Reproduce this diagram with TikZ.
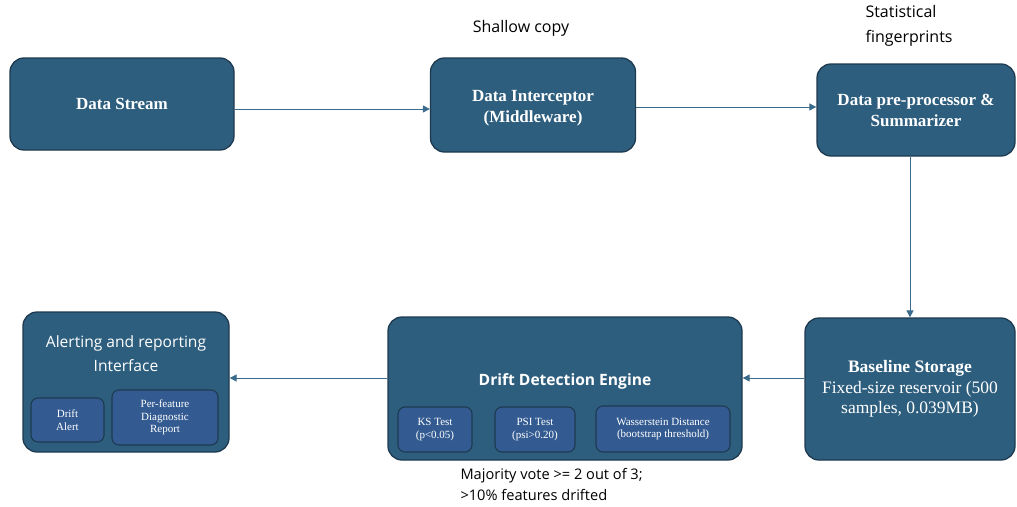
\documentclass[tikz,border=0pt]{standalone}
\usepackage{fontspec}
\setmainfont{Liberation Serif}
\setsansfont{Open Sans}
\usepackage{tikz}
\usetikzlibrary{arrows.meta}
\definecolor{boxblue}{HTML}{2E5E7E}
\definecolor{innerblue}{HTML}{335B91}
\definecolor{edgeblue}{HTML}{1E3A50}
\definecolor{linkblue}{HTML}{3A6A8C}
\tikzset{
  stage/.style    = {draw=edgeblue,line width=1.3pt,fill=boxblue,rounded corners=14pt,
                     text=white,align=center,inner sep=0pt},
  subbox/.style   = {draw=edgeblue,line width=1.1pt,fill=innerblue,rounded corners=7pt,
                     text=white,align=center,inner sep=0pt,
                     font=\fontsize{11}{12.5}\selectfont},
  flow/.style     = {-{Triangle[length=7pt,width=7pt]},linkblue,line width=1pt},
  note/.style     = {font=\sffamily\fontsize{16}{25}\selectfont,align=left}
}
\newcommand{\titlefont}{\bfseries\fontsize{17}{21}\selectfont}
\begin{document}
\begin{tikzpicture}[x=1pt,y=-1pt]
  \useasboundingbox (0,0) rectangle (1017,506);
  % top row
  \node[stage,minimum width=224,minimum height=92,font=\titlefont] (stream) at (122,104) {Data Stream};
  \node[stage,minimum width=205,minimum height=94] (intercept) at (533,105) {};
  \node[font=\titlefont,text=white,align=center] (intertitle) at (533,108.5) {Data Interceptor\\(Middleware)};
  \node[stage,minimum width=198,minimum height=92,font=\titlefont] (prep) at (916,110) {Data pre-processor \&\\Summarizer};
  % bottom row
  \node[stage,minimum width=210,minimum height=142,font=\fontsize{17.5}{20.5}\selectfont] (store) at (910,389)
    {\textbf{Baseline Storage}\\Fixed-size reservoir (500\\samples, 0.039MB)};
  \node[stage,minimum width=354,minimum height=143] (engine) at (565,388.5) {};
  \node[font=\sffamily\bfseries\fontsize{15.6}{18}\selectfont,text=white] (engtitle) at (565,381) {Drift Detection Engine};
  \node[subbox,minimum width=74,minimum height=45] (ks) at (435,429.5) {KS Test\\(p\textless0.05)};
  \node[subbox,minimum width=80,minimum height=45] (psi) at (535,429.5) {PSI Test\\(psi\textgreater0.20)};
  \node[subbox,minimum width=134,minimum height=46] (wass) at (663,429) {Wasserstein Distance\\(bootstrap threshold)};
  \node[stage,minimum width=206,minimum height=140] (alert) at (126,382) {};
  \node[font=\sffamily\fontsize{15.6}{24}\selectfont,text=white,align=center] (alerttitle) at (126,354) {Alerting and reporting\\Interface};
  \node[subbox,minimum width=73,minimum height=44] (driftalert) at (67.5,420) {Drift\\Alert};
  \node[subbox,minimum width=106,minimum height=55] (report) at (165,417.5) {Per-feature\\Diagnostic\\Report};
  % notes
  \node[note] (shallow) at (521,28) {Shallow copy};
  \node[note,anchor=north west] (finger) at (862,2) {Statistical\\fingerprints};
  \node[note,anchor=north west,font=\sffamily\fontsize{14.6}{21}\selectfont] (vote) at (457,465) {Majority vote \textgreater= 2 out of 3;\\\textgreater10\% features drifted};
  % connectors
  \draw[flow] (stream.east |- 0,109) -- (intercept.west |- 0,109);
  \draw[flow] (intercept.east |- 0,107) -- (prep.west |- 0,107);
  \draw[flow] (prep.south -| 910,0) -- (store.north -| 910,0);
  \draw[flow] (store.west |- 0,378) -- (engine.east |- 0,378);
  \draw[flow] (engine.west |- 0,378) -- (alert.east |- 0,378);
\end{tikzpicture}
\end{document}
